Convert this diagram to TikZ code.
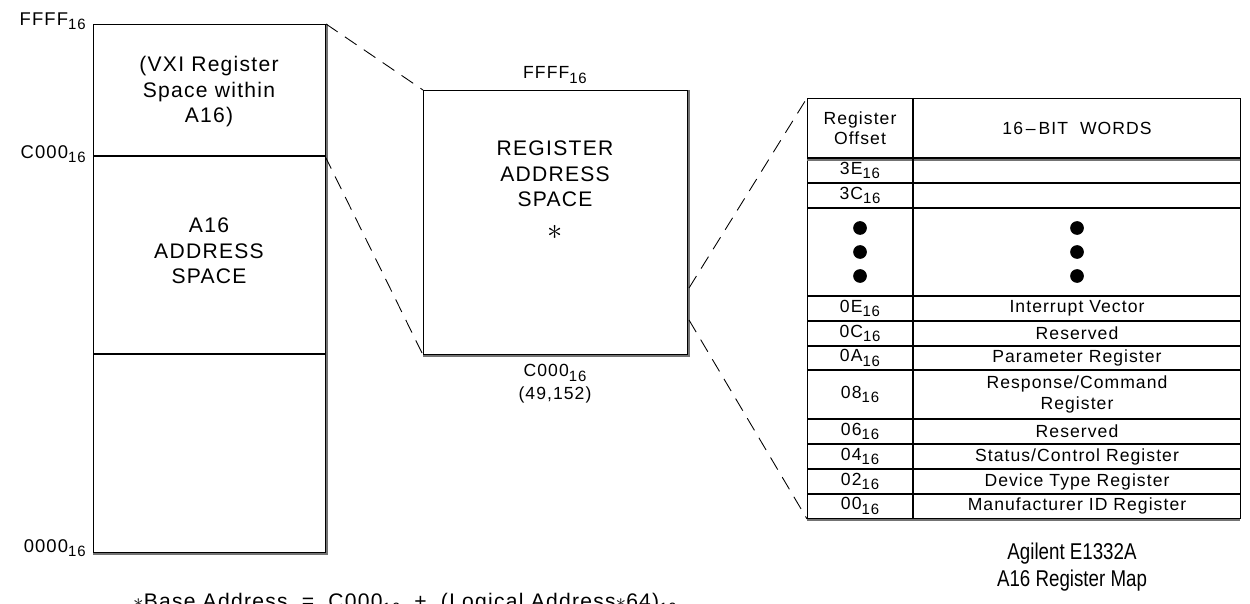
\documentclass[tikz,border=0pt]{standalone}
\usepackage{fontspec}
\setmainfont{Liberation Sans}[LetterSpace=6]
\newfontfamily\capfont{Liberation Sans}[FakeStretch=0.82]
\newcommand{\sbs}[1]{\raisebox{-0.45ex}{\fontsize{8.5}{9}\selectfont #1}}
\begin{document}
\begin{tikzpicture}[x=0.02cm, y=-0.02cm,
  frame/.style={draw, line width=0.6pt, inner sep=0, anchor=north west},
  shade/.style={draw=black!55, line width=0.6pt},
  rule/.style={draw, line width=0.6pt},
  dashline/.style={draw, line width=0.5pt, dash pattern=on 8pt off 5pt},
  big/.style={font=\fontsize{12}{14.5}\selectfont, align=center, inner sep=0},
  cell/.style={font=\fontsize{10}{11.5}\selectfont, align=center, inner sep=0},
  side/.style={font=\fontsize{10.5}{11}\selectfont, inner sep=0, anchor=east},
  blob/.style={circle, fill=black, minimum size=7.8pt, inner sep=0},
  capt/.style={font=\capfont\fontsize{13}{15}\selectfont, align=center, inner sep=0}]
\useasboundingbox (0,0) rectangle (1250,604);

% ---------- left box ----------
\node (lbox) [frame, minimum width=4.64cm, minimum height=10.56cm] at (93,24) {};
\draw[shade] (327,24) -- (327,554) -- (93,554);
\coordinate (lc0) at (93,156);  \coordinate (lc1) at (325,156);
\coordinate (ld0) at (93,354);  \coordinate (ld1) at (325,354);
\draw[rule] (lc0) -- (lc1);
\draw[rule] (ld0) -- (ld1);
\node (lffff) [side] at (86,21) {FFFF\sbs{16}};
\node (lc000) [side] at (86,154) {C000\sbs{16}};
\node (l0000) [side] at (86,548) {0000\sbs{16}};
\node (vxi) [big] at (209,92) {(VXI Register\\Space within\\A16)};
\node (a16) [big] at (209,251) {A16\\ADDRESS\\SPACE};

% ---------- middle box ----------
\node (mbox) [frame, minimum width=5.28cm, minimum height=5.28cm] at (423,90) {};
\draw[shade] (689,90) -- (689,356) -- (423,356);
\node (mffff) [cell] at (555,75) {FFFF\sbs{16}};
\node (mc000) [cell] at (555,373) {C000\sbs{16}};
\node (mdec) [cell] at (555,395) {(49,152)};
\node (ras) [big] at (555,174) {REGISTER\\ADDRESS\\SPACE};
\node (star) [inner sep=0, font=\fontsize{17}{17}\selectfont] at (555,232) {$\ast$};

% ---------- table ----------
\node (tab) [frame, minimum width=8.66cm, minimum height=8.4cm] at (807,98) {};
\draw[shade] (807,520) -- (1240,520);
\draw[shade] (807,160) -- (1240,160);
\draw[rule] (913,98) -- (913,518);
\foreach \yy in {158,183,208,296,321,346,370,419,444,469,494}
  \draw[rule] (807,\yy) -- (1240,\yy);

\node (hoff) [cell] at (860,128) {Register\\Offset};
\node (hword) [cell] at (1077,128) {16\,--\,BIT\ \ WORDS};
\node (o3e) [cell] at (860,170.5) {3E\sbs{16}};
\node (o3c) [cell] at (860,195.5) {3C\sbs{16}};
\foreach \yy [count=\i] in {228,252,276} {
  \node (dl\i) [blob] at (860,\yy) {};
  \node (dr\i) [blob] at (1077,\yy) {};
}
\node (o0e) [cell] at (860,308.5) {0E\sbs{16}};
\node (w0e) [cell] at (1077,308.5) {Interrupt Vector};
\node (o0c) [cell] at (860,333.5) {0C\sbs{16}};
\node (w0c) [cell] at (1077,333.5) {Reserved};
\node (o0a) [cell] at (860,358) {0A\sbs{16}};
\node (w0a) [cell] at (1077,358) {Parameter Register};
\node (o08) [cell] at (860,394.5) {08\sbs{16}};
\node (w08) [cell] at (1077,394.5) {Response/Command\\Register};
\node (o06) [cell] at (860,431.5) {06\sbs{16}};
\node (w06) [cell] at (1077,431.5) {Reserved};
\node (o04) [cell] at (860,456.5) {04\sbs{16}};
\node (w04) [cell] at (1077,456.5) {Status/Control Register};
\node (o02) [cell] at (860,481.5) {02\sbs{16}};
\node (w02) [cell] at (1077,481.5) {Device Type Register};
\node (o00) [cell] at (860,506) {00\sbs{16}};
\node (w00) [cell] at (1077,506) {Manufacturer ID Register};

% ---------- dashed connectors ----------
\coordinate (m1) at (689,288);
\coordinate (m2) at (689,320);
\draw[dashline] (lbox.north east) -- (mbox.north west);
\draw[dashline] (lc1) -- (mbox.south west);
\draw[dashline] (m1) -- (tab.north west);
\draw[dashline] (m2) -- (tab.south west);

% ---------- captions ----------
\node (cap) [capt] at (1072,567) {Agilent E1332A\\A16 Register Map};
\node (note) [big] at (405,603) {$\ast$Base Address \ = \ C000\sbs{16} \ + \ (Logical Address$\ast$64)\sbs{10}};
\end{tikzpicture}
\end{document}
